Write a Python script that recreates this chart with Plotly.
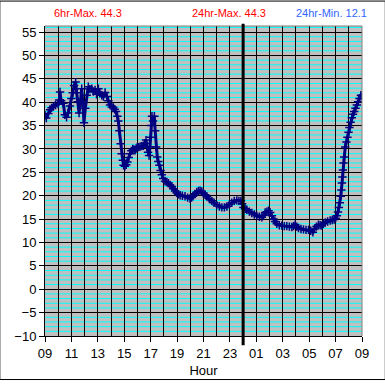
import plotly.graph_objects as go

# hours since 09:00
hours = [0.00,0.10,0.25,0.38,0.50,0.63,0.80,1.00,1.08,1.14,1.22,1.39,1.50,1.63,1.75,1.89,2.00,2.10,2.20,2.32,
         2.40,2.48,2.58,2.68,2.78,2.86,2.95,3.05,3.16,3.28,3.40,3.54,3.66,3.79,3.90,4.04,4.15,4.30,4.42,4.55,
         4.70,4.80,4.92,5.05,5.17,5.28,5.38,5.48,5.55,5.63,5.73,5.80,5.89,5.95,6.05,6.15,6.24,6.34,6.44,6.54,
         6.64,6.74,6.82,6.90,6.99,7.10,7.20,7.33,7.45,7.55,7.65,7.72,7.80,7.88,7.95,8.00,8.05,8.10,8.18,8.28,
         8.34,8.41,8.50,8.58,8.66,8.75,8.84,8.95,9.09,9.22,9.34,9.47,9.60,9.72,9.85,9.98,10.10,10.23,10.40,10.60,
         10.80,10.98,11.10,11.20,11.35,11.49,11.62,11.74,11.87,11.99,12.12,12.25,12.45,12.63,12.80,13.00,13.20,13.39,13.58,13.77,
         13.95,14.14,14.33,14.52,14.68,14.83,14.92,15.02,15.15,15.28,15.47,15.66,15.85,16.04,16.23,16.42,16.55,16.67,16.80,16.92,
         17.05,17.18,17.30,17.42,17.55,17.74,17.93,18.12,18.31,18.50,18.69,18.82,18.94,19.06,19.19,19.38,19.57,19.76,19.95,20.12,
         20.28,20.40,20.55,20.70,20.83,20.96,21.08,21.21,21.40,21.59,21.75,21.89,22.00,22.10,22.18,22.25,22.32,22.39,22.44,22.48,
         22.52,22.55,22.60,22.65,22.73,22.82,22.90,22.98,23.05,23.14,23.23,23.32,23.41,23.51,23.61,23.71,23.81,23.92,24.00]
temps = [37.2,36.6,37.6,38.4,38.8,39.1,39.4,39.6,40.5,42.2,40.3,39.8,37.3,36.8,37.7,39.2,40.8,42.0,43.6,44.3,
         42.0,40.1,37.7,40.1,42.9,40.1,35.6,38.7,41.5,43.3,42.8,42.9,42.3,42.6,41.7,42.9,41.9,41.5,41.2,42.1,
         41.2,40.3,39.4,39.0,38.9,38.5,38.0,37.0,36.0,33.9,31.1,29.0,27.6,26.5,26.3,26.6,27.2,28.2,29.0,29.6,
         30.0,29.9,29.7,30.1,30.4,30.4,30.5,30.6,30.7,31.2,31.9,30.4,29.3,28.6,30.5,32.5,35.0,37.0,36.0,37.0,
         33.9,30.4,28.3,27.3,26.5,25.4,24.5,23.7,23.1,22.9,22.7,22.3,22.0,21.5,21.0,20.6,20.3,20.1,20.0,19.9,
         19.6,19.4,19.6,19.9,20.4,20.8,21.0,21.1,20.9,20.6,20.2,19.8,19.3,18.9,18.5,18.0,17.7,17.5,17.5,17.7,
         18.1,18.5,18.9,19.0,18.9,18.9,18.3,17.5,17.2,17.0,16.6,16.3,16.0,15.7,15.5,15.4,15.8,16.4,16.6,16.8,
         16.4,15.7,15.0,14.5,14.0,13.7,13.6,13.5,13.5,13.4,13.3,13.5,13.8,13.4,13.1,12.9,12.8,12.7,12.7,12.5,
         12.2,12.9,13.4,13.8,13.7,13.6,14.0,14.3,14.5,14.7,14.8,14.9,15.2,15.7,16.5,17.5,18.5,19.9,21.2,22.7,
         24.0,25.5,27.0,28.3,30.4,31.5,32.5,33.6,34.6,35.7,36.7,37.4,38.0,38.7,39.4,40.1,40.8,41.5,41.3]

tick_hours = [0, 2, 4, 6, 8, 10, 12, 14, 16, 18, 20, 22, 24]
tick_labels = ["09", "11", "13", "15", "17", "19", "21", "23", "01", "03", "05", "07", "09"]
y_ticks = [-10, -5, 0, 5, 10, 15, 20, 25, 30, 35, 40, 45, 50, 55]

fig = go.Figure()
fig.add_trace(go.Scatter(
    x=hours, y=temps, mode="lines+markers",
    line=dict(color="#000080", width=3),
    marker=dict(symbol="cross-thin", size=6, line=dict(color="#000080", width=1.5)),
    showlegend=False, hoverinfo="skip"))

font = dict(family="Liberation Sans, Arial, sans-serif", size=13, color="black")

fig.update_layout(
    width=385, height=388,
    margin=dict(l=45, r=23, t=26, b=45),
    paper_bgcolor="white", plot_bgcolor="#C0C0C0",
    font=font,
    xaxis=dict(range=[0, 24], tickvals=tick_hours, ticktext=tick_labels,
               showgrid=True, gridcolor="black", gridwidth=1,
               minor=dict(dtick=1, showgrid=True, gridcolor="black", gridwidth=1),
               ticks="outside", ticklen=5, tickcolor="black",
               showline=True, linecolor="black", linewidth=1, mirror=False,
               zeroline=False, fixedrange=True,
               title=dict(text="Hour", font=dict(size=13), standoff=6)),
    yaxis=dict(range=[-10, 56.3], tickvals=y_ticks,
               showgrid=True, gridcolor="black", gridwidth=1,
               ticks="outside", ticklen=5, tickcolor="black",
               showline=True, linecolor="black", linewidth=1,
               zeroline=False, fixedrange=True),
)

# cyan minor horizontal lines, drawn beneath the black grid
for v in range(-10, 57):
    if v % 5 != 0:
        fig.add_shape(type="line", xref="paper", yref="y", x0=0, x1=1, y0=v, y1=v,
                      layer="below", line=dict(color="#00FFFF", width=1))

# grey border on top and right of plot area
fig.add_shape(type="line", xref="paper", yref="paper", x0=0, x1=1, y0=1, y1=1,
              line=dict(color="#808080", width=1))
fig.add_shape(type="line", xref="paper", yref="paper", x0=1, x1=1, y0=0, y1=1,
              line=dict(color="#808080", width=1))
# midnight marker
fig.add_shape(type="line", xref="x", yref="paper", x0=15, x1=15, y0=-0.03, y1=1.007,
              line=dict(color="black", width=3))
# outer frame
fig.add_shape(type="rect", xref="paper", yref="paper", x0=-0.1425, x1=1.0735, y0=-0.1404, y1=1.0804,
              line=dict(color="black", width=1))

ann_font = dict(family="Liberation Sans, Arial, sans-serif", size=11)
fig.add_annotation(text="6hr-Max. 44.3", xref="paper", yref="paper", x=0.135, y=1.042,
                   xanchor="center", yanchor="middle",
                   showarrow=False, font=dict(ann_font, color="#FF0000"))
fig.add_annotation(text="24hr-Max. 44.3", xref="paper", yref="paper", x=0.582, y=1.042,
                   xanchor="center", yanchor="middle",
                   showarrow=False, font=dict(ann_font, color="#FF0000"))
fig.add_annotation(text="24hr-Min. 12.1", xref="paper", yref="paper", x=0.905, y=1.042,
                   xanchor="center", yanchor="middle",
                   showarrow=False, font=dict(ann_font, color="#3366FF"))

fig.write_html("out.html", config={"displayModeBar": False},
               post_script="document.body.style.margin='0';")
